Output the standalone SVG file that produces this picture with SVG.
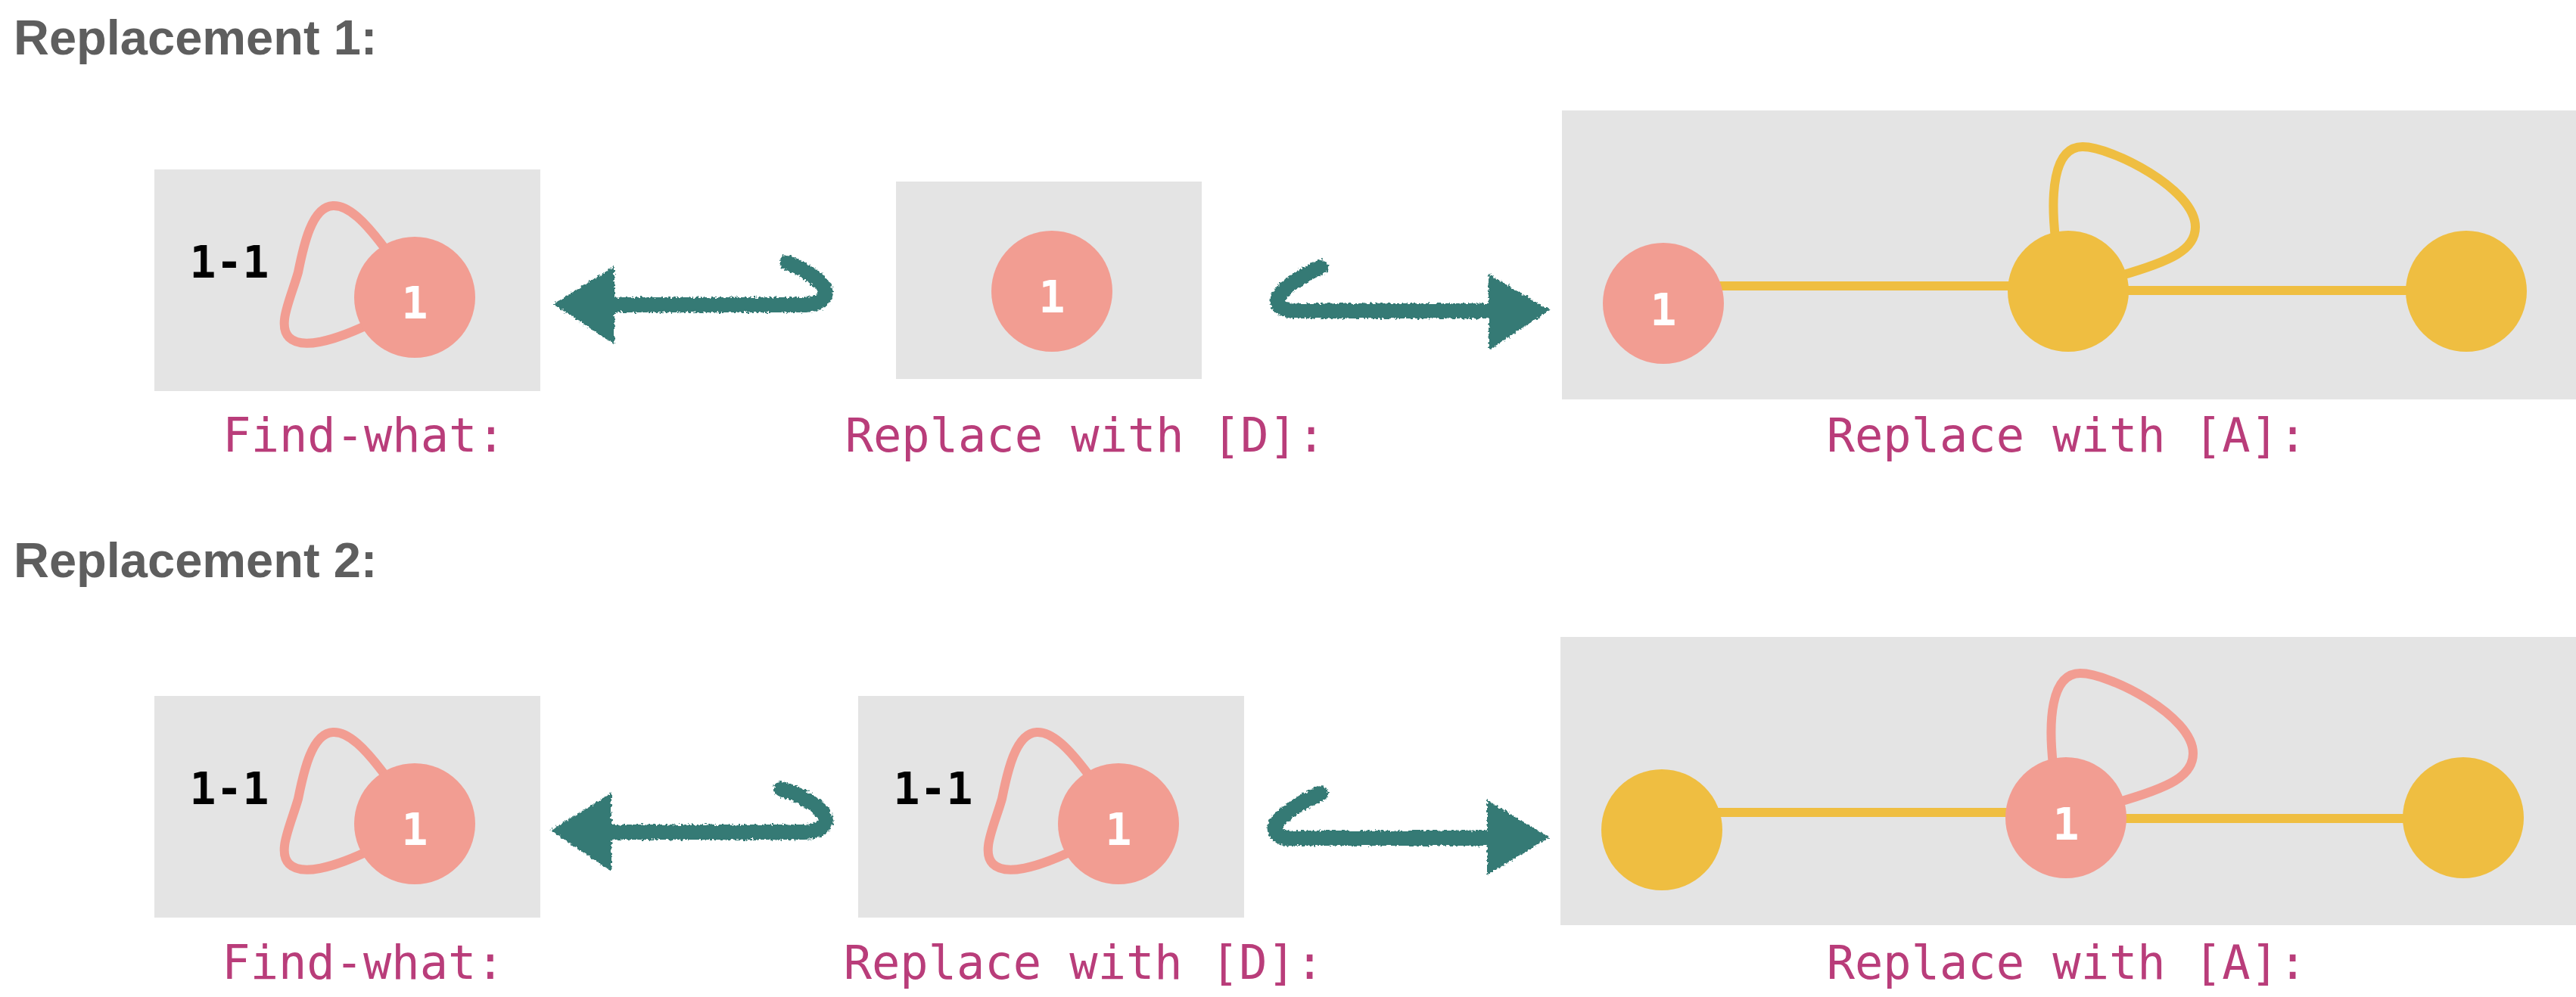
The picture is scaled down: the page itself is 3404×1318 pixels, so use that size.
<svg xmlns="http://www.w3.org/2000/svg" width="3404" height="1318" viewBox="0 0 3404 1318">
<defs>
<style>
.title{font-family:"Liberation Sans",Arial,sans-serif;font-weight:bold;font-size:65px;fill:#5e5e5e}
.cap{font-family:"DejaVu Sans Mono","Liberation Mono",monospace;font-size:62px;fill:#b93d7a;text-anchor:middle}
.panel{fill:#e4e4e4}
.pink{fill:#f29d92}
.yellow{fill:#efbe41}
.num{font-family:"DejaVu Sans Mono","Liberation Mono",monospace;font-weight:bold;font-size:58px;fill:#ffffff;text-anchor:middle}
.lbl{font-family:"DejaVu Sans Mono","Liberation Mono",monospace;font-weight:bold;font-size:58px;fill:#000000;text-anchor:middle}
.loopP{fill:none;stroke:#f29d92;stroke-width:12;stroke-linecap:round}
.loopY{fill:none;stroke:#efbe41;stroke-width:12;stroke-linecap:round}
.edge{fill:none;stroke:#efbe41;stroke-width:12}
.shaft{fill:none;stroke:#367a75;stroke-width:20;stroke-linecap:round;stroke-linejoin:round}
.head{fill:#367a75}
</style>
<filter id="rough" x="-10%" y="-40%" width="120%" height="180%">
<feTurbulence type="fractalNoise" baseFrequency="0.3" numOctaves="2" seed="4" result="n"/>
<feDisplacementMap in="SourceGraphic" in2="n" scale="7" xChannelSelector="R" yChannelSelector="G"/>
</filter>
</defs>
<rect width="3404" height="1318" fill="#ffffff"/>

<text class="title" x="18" y="72">Replacement 1:</text>
<text class="title" x="18" y="763">Replacement 2:</text>

<g id="panels">
<rect class="panel" x="204" y="224" width="510" height="293"/>
<rect class="panel" x="1184" y="240" width="404" height="261"/>
<rect class="panel" x="2064" y="146" width="1340" height="382"/>
<rect class="panel" x="204" y="920" width="510" height="293"/>
<rect class="panel" x="1134" y="920" width="510" height="293"/>
<rect class="panel" x="2062" y="842" width="1342" height="381"/>
</g>

<g id="connectors">
<g filter="url(#rough)">
<path class="shaft" d="M805 403 L1062 403 C1090 403 1097 388 1085 375 C1074 363 1055 353 1040 347"/>
<polygon class="head" points="731,402 812,352 812,455"/>
<path class="shaft" d="M1970 411 L1710 411 C1688 410 1682 398 1695 385 C1710 370 1730 360 1745 353"/>
<polygon class="head" points="1967,362 1967,463 2048,410"/>
<path class="shaft" d="M805 1100 L1062 1100 C1090 1100 1097 1085 1085 1072 C1072 1058 1050 1048 1032 1043"/>
<polygon class="head" points="728,1098 808,1048 808,1152"/>
<path class="shaft" d="M1968 1108 L1705 1108 C1685 1107 1678 1095 1692 1082 C1707 1068 1728 1056 1745 1049"/>
<polygon class="head" points="1965,1057 1965,1157 2047,1107"/>
</g>
<path class="loopP" d="M512 333 C482 292 460 271 440 272 C412 273 401 325 394 360 C384 395 366 430 382 446 C398 462 440 452 495 425"/>
<path class="edge" d="M2198 378 L2733 378"/>
<path class="edge" d="M2733 384 L3259 384"/>
<path class="loopY" d="M2716 315 C2710 260 2712 194 2752 194 C2790 194 2901 250 2901 300 C2901 330 2870 345 2800 365"/>
<path class="loopP" d="M512 1029 C482 988 460 967 440 968 C412 969 401 1021 394 1056 C384 1091 366 1126 382 1142 C398 1158 440 1148 495 1121"/>
<path class="loopP" d="M1442 1029 C1412 988 1390 967 1370 968 C1342 969 1331 1021 1324 1056 C1314 1091 1296 1126 1312 1142 C1328 1158 1370 1148 1425 1121"/>
<path class="edge" d="M2196 1074 L2730 1074"/>
<path class="edge" d="M2730 1082 L3255 1082"/>
<path class="loopP" d="M2713 1011 C2707 956 2709 890 2749 890 C2787 890 2898 946 2898 996 C2898 1026 2867 1041 2797 1061"/>
</g>

<g id="r1-find">
<text class="lbl" x="303" y="367">1-1</text>
<circle class="pink" cx="548" cy="393" r="80"/>
<text class="num" x="548" y="421">1</text>
</g>
<g id="r1-replD">
<circle class="pink" cx="1390" cy="385" r="80"/>
<text class="num" x="1390" y="413">1</text>
</g>
<g id="r1-replA">
<circle class="pink" cx="2198" cy="401" r="80"/>
<text class="num" x="2198" y="430">1</text>
<circle class="yellow" cx="2733" cy="385" r="80"/>
<circle class="yellow" cx="3259" cy="385" r="80"/>
</g>
<g id="r2-find">
<text class="lbl" x="303" y="1063">1-1</text>
<circle class="pink" cx="548" cy="1089" r="80"/>
<text class="num" x="548" y="1117">1</text>
</g>
<g id="r2-replD">
<text class="lbl" x="1233" y="1063">1-1</text>
<circle class="pink" cx="1478" cy="1089" r="80"/>
<text class="num" x="1478" y="1117">1</text>
</g>
<g id="r2-replA">
<circle class="yellow" cx="2196" cy="1097" r="80"/>
<circle class="pink" cx="2730" cy="1081" r="80"/>
<text class="num" x="2730" y="1110">1</text>
<circle class="yellow" cx="3255" cy="1081" r="80"/>
</g>

<g id="captions">
<text class="cap" x="481" y="597">Find-what:</text>
<text class="cap" x="1434" y="597">Replace with [D]:</text>
<text class="cap" x="2731" y="597">Replace with [A]:</text>
<text class="cap" x="480" y="1294">Find-what:</text>
<text class="cap" x="1432" y="1294">Replace with [D]:</text>
<text class="cap" x="2731" y="1294">Replace with [A]:</text>
</g>
</svg>
